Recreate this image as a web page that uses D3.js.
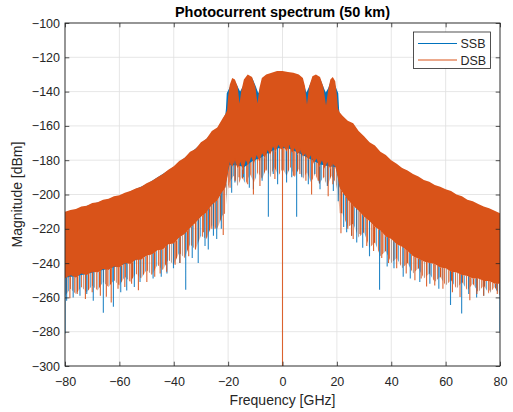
<!DOCTYPE html>
<html>
<head>
<meta charset="utf-8">
<script src="https://cdn.jsdelivr.net/npm/d3@7"></script>
<style>
  body { margin: 0; background: #fff; }
  svg { font-family: "Liberation Sans", Arial, sans-serif; }
</style>
</head>
<body>
<svg id="chart" width="513" height="412"></svg>
<script>
// valeurs : [fréquence GHz, niveau dBm]
const xTicks = [-80, -60, -40, -20, 0, 20, 40, 60, 80]
const yTicks = [-300, -280, -260, -240, -220, -200, -180, -160, -140, -120, -100]
const seriesNames = ["SSB", "DSB"]

// enveloppe haute DSB
const dsbUpper = [[-80,-210],[-78,-209],[-76,-208.5],[-74,-207],[-72,-206.5],[-70,-205],[-68,-204.5],[-66,-203],
  [-64,-202.5],[-62,-201],[-60,-200.5],[-58,-199],[-56,-198],[-54,-196.5],[-52,-195.5],[-50,-193.5],[-48,-192],
  [-46,-190],[-44,-188],[-42,-185.5],[-40,-183.5],[-38,-180.5],[-36,-178.5],[-34,-175],[-32,-173.5],[-30,-169.5],
  [-28,-167.5],[-26,-163],[-24,-161],[-22,-155.5],[-21,-153],[-20.4,-151],[-20,-143],[-19.4,-136],[-18.5,-132],
  [-17.5,-133],[-16.5,-137],[-15.8,-147],[-15.2,-140],[-14.2,-133],[-12.8,-130],[-11.2,-131.5],[-10,-137],[-9.2,-147],
  [-8.5,-138],[-7.6,-132],[-6,-130],[-4,-129],[-2,-128],[0,-128],[2,-128.5],[4,-129],[6,-130],[7.5,-132],[8.3,-137],
  [9,-147.5],[9.8,-137],[11,-131],[12.3,-130],[13.8,-131.5],[15,-137],[16,-148],[16.8,-139],[17.6,-133],[18.5,-131.5],
  [19.4,-134],[20,-142],[20.4,-150],[21,-152],[22,-154],[24,-157],[26,-158.5],[28,-163],[30,-166],[32,-169.5],
  [34,-171.5],[36,-175],[38,-177],[40,-180],[42,-182],[44,-184.5],[46,-186],[48,-188],[50,-189.5],[52,-191.5],
  [54,-192.5],[56,-194.5],[58,-195.5],[60,-197],[62,-198],[64,-200],[66,-201],[68,-203],[70,-204],[72,-205.5],
  [74,-207],[76,-208],[78,-209.5],[80,-211]]

// enveloppe basse (partie pleine) DSB
const dsbLower = [[-80,-249],[-78,-247],[-76,-248.5],[-74,-246],[-72,-247],[-70,-245],[-68,-245.5],[-66,-243.5],
  [-64,-244],[-62,-242],[-60,-242.5],[-58,-240],[-56,-240.5],[-54,-238],[-52,-238],[-50,-235.5],[-48,-235],
  [-46,-232.5],[-44,-232],[-42,-229],[-40,-228.5],[-38,-225],[-36,-223],[-34,-219.5],[-32,-216.5],[-30,-213],
  [-28,-210.5],[-26,-206],[-24,-203.5],[-22,-198],[-21,-196],[-20.3,-190],[-19.5,-181],[-18.5,-184],[-17.5,-180],
  [-16.5,-185],[-15.5,-181],[-14.5,-186],[-13.5,-180],[-12.5,-183],[-11.5,-178],[-10.5,-182],[-9.5,-177],[-8.5,-181],
  [-7.5,-176],[-6.5,-179],[-5.5,-174],[-4.5,-177],[-3.5,-172],[-2.5,-175],[-1.5,-171],[-0.5,-174],[0.5,-172],
  [1.5,-175],[2.5,-171],[3.5,-176],[4.5,-173],[5.5,-177],[6.5,-174],[7.5,-178],[8.5,-176],[9.5,-180],[10.5,-177],
  [11.5,-182],[12.5,-179],[13.5,-184],[14.5,-180],[15.5,-185],[16.5,-181],[17.5,-185],[18.5,-182],[19.5,-184],
  [20.3,-190],[21,-196],[22,-198.5],[24,-203],[26,-206.5],[28,-209.5],[30,-213],[32,-215.5],[34,-219],[36,-221],
  [38,-224.5],[40,-226],[42,-229],[44,-230.5],[46,-233],[48,-236],[50,-237.5],[52,-239],[54,-240],[56,-240.5],
  [58,-242.5],[60,-243],[62,-245],[64,-245.5],[66,-247],[68,-247.5],[70,-249],[72,-249],[74,-250.5],[76,-250.5],
  [78,-252],[80,-252]]

// enveloppe haute SSB (visible dans les creux)
const ssbUpper = [[-80,-211],[-70,-205.5],[-60,-201],[-50,-194],[-40,-184],[-30,-170.5],[-24,-161.5],[-22,-156.5],
  [-21,-153],[-20.8,-150],[-20.5,-141],[-19.6,-138],[-18.5,-133.5],[-17.5,-134],[-16.5,-137],[-15.6,-140],[-14.6,-137],
  [-13.5,-133],[-12.5,-131],[-11,-132.5],[-9.8,-137],[-8.9,-141],[-8,-137],[-7,-133],[-5,-130.5],[-2,-129.5],[0,-129],
  [2,-129.5],[5,-130.5],[7,-133],[8,-136.5],[8.8,-140.5],[9.8,-137],[11,-132.5],[12.5,-131],[14,-133],[15,-137],
  [15.9,-140.5],[16.8,-138],[17.8,-133.5],[19,-135],[20.5,-141],[20.8,-150],[21,-153],[22,-155.5],[24,-158],
  [30,-167],[40,-181],[50,-190.5],[60,-198],[70,-205],[80,-212]]

const ssbLower = [[-80,-248.5],[-76,-247.5],[-72,-246.3],[-68,-244.8],[-64,-243.3],[-60,-241.5],[-56,-239.5],[-52,-237],
  [-48,-234],[-44,-230.5],[-40,-227],[-36,-222],[-32,-216],[-28,-209.5],[-24,-202.5],[-22,-198],[-21,-195.5],
  [-20.5,-191],[-19.5,-183],[-17,-183],[-14,-184],[-11,-180.5],[-8,-178.5],[-5,-175.5],[-2,-173],[0,-173],[2,-173],
  [5,-175],[8,-177.5],[11,-180],[14,-182.5],[17,-183.5],[19.5,-184],[20.5,-191],[21,-195.5],[22,-198],[24,-202.5],
  [28,-209],[32,-215],[36,-220.5],[40,-225.5],[44,-230],[48,-235],[52,-238.5],[56,-240],[60,-242.5],[64,-244.8],
  [68,-246.8],[72,-248.5],[76,-250],[80,-251.5]]

// fin de la frange de pics sous la bande
const fringeLower = [[-80,-259],[-78,-255],[-76,-258],[-74,-254],[-72,-257],[-70,-253],[-68,-256],[-66,-251],
  [-64,-254],[-62,-250],[-60,-253],[-58,-248],[-56,-251],[-54,-246],[-52,-249],[-50,-244],[-48,-247],[-46,-241],
  [-44,-244],[-42,-238],[-40,-241],[-38,-234],[-36,-237],[-34,-229],[-32,-232],[-30,-224],[-28,-226],[-26,-218],
  [-24,-220],[-22,-212],[-21,-211],[-20.5,-200],[-19.5,-193],[-18,-189],[-16.5,-195],[-15,-190],[-13.5,-194],
  [-12,-188],[-10.5,-193],[-9,-187],[-7.5,-191],[-6,-185],[-4.5,-190],[-3,-184],[-1.5,-189],[0,-185],[1.5,-189],
  [3,-184],[4.5,-190],[6,-185],[7.5,-191],[9,-187],[10.5,-193],[12,-188],[13.5,-194],[15,-190],[16.5,-195],[18,-189],
  [19.5,-193],[20.5,-200],[21,-211],[22,-211],[24,-219],[26,-217],[28,-225],[30,-222],[32,-231],[34,-228],[36,-236],
  [38,-233],[40,-240],[42,-237],[44,-243],[46,-240],[48,-246],[50,-243],[52,-249],[54,-246],[56,-251],[58,-248],
  [60,-253],[62,-250],[64,-255],[66,-251],[68,-256],[70,-252],[72,-257],[74,-253],[76,-258],[78,-254],[80,-259]]

// pics vers le bas
const ssbSpikes = [[-80,-281],[-79.4,-262],[-77,-260],[-74.5,-259],[-72,-258],[-69.6,-262],[-65.9,-269],[-62.2,-265.5],
  [-59.5,-257],[-57.3,-256],[-54.5,-254],[-52.4,-251],[-47.6,-249],[-44.6,-248],[-42.5,-246],[-40.1,-243],[-37.8,-240],
  [-35.6,-255.5],[-33.2,-237],[-31,-240],[-28.5,-230],[-27.3,-232],[-25.4,-224],[-24.2,-226],[-22.5,-220],[-18.7,-199],
  [-17.5,-193],[-14.4,-190],[-12.2,-196],[-10.7,-197],[-7.5,-192],[-5.2,-213],[-3.4,-188],[-1.8,-194],[1.5,-193],
  [3.4,-190],[5.2,-213],[7.1,-190],[9.5,-194],[11.9,-188],[13.8,-197],[16.5,-195],[18.7,-198],[20.5,-204],[22.5,-219],
  [23.6,-222],[25.4,-224],[27.3,-228],[29.5,-231],[32,-236],[35.7,-255.5],[38.5,-242],[41,-243],[44.4,-248],[47,-249],
  [50.5,-251],[54.2,-252],[57.5,-255],[61.8,-264.5],[65.9,-269.4],[68.5,-258],[71.4,-260],[74,-259],[78.8,-256],[80,-280]]

const dsbSpikes = [[-78.2,-260.5],[-75.5,-258],[-72.5,-261],[-70,-257],[-67,-259],[-64.8,-259.6],[-63,-263],[-60.5,-255],
  [-58,-254],[-55.5,-252],[-53,-255.8],[-49.9,-251],[-47,-248],[-45,-246],[-42.6,-245],[-39.5,-241],[-37.7,-240],
  [-34.5,-236],[-32,-232],[-29.1,-222],[-27.9,-225],[-26,-220],[-24.8,-220],[-21.8,-223.6],[-19.3,-196],[-17.5,-192],
  [-16,-190],[-14.4,-188],[-12.8,-194],[-10.7,-200],[-8.3,-195],[-6,-186],[-2.8,-191],[0,-300],[2.2,-186],[4,-189],
  [6.4,-188],[8.6,-192],[10.7,-200],[13.2,-192],[15.2,-190],[16.8,-201],[18.5,-194],[21.5,-222.6],[24,-220],
  [25.4,-224],[26,-226],[28.5,-223],[31,-230],[33.5,-233],[36.5,-237],[39,-240],[42,-243],[45.5,-246],[48.7,-250],
  [51,-249],[53,-253.6],[56,-253],[59,-255],[62.5,-257],[65.3,-259.7],[68.9,-261.6],[71.5,-258],[74,-259],[76.3,-256],[79,-258]]

const colors = { SSB: "#0072BD", DSB: "#D95319" }
const axisColor = "#262626"

// dessin
const pLeft = 65, pRight = 500, pTop = 23, pBottom = 366
const svg = d3.select("#chart")

const x = d3.scaleLinear().domain([-80, 80]).range([pLeft, pRight])
const y = d3.scaleLinear().domain([-300, -100]).range([pBottom, pTop])

const defs = svg.append("defs")
defs.append("clipPath").attr("id", "plotClip")
  .append("rect").attr("x", pLeft).attr("y", pTop).attr("width", pRight - pLeft).attr("height", pBottom - pTop)
// motif de pics fins (frange bruitée)
const pat = defs.append("pattern").attr("id", "comb")
  .attr("patternUnits", "userSpaceOnUse").attr("width", 11).attr("height", 10)
pat.append("rect").attr("x", 0).attr("width", 1.4).attr("height", 10).attr("fill", colors.DSB)
pat.append("rect").attr("x", 2.2).attr("width", 0.9).attr("height", 10).attr("fill", colors.SSB).attr("opacity", 0.75)
pat.append("rect").attr("x", 4).attr("width", 1.1).attr("height", 10).attr("fill", colors.DSB).attr("opacity", 0.8)
pat.append("rect").attr("x", 6.2).attr("width", 0.9).attr("height", 10).attr("fill", "#7d5548").attr("opacity", 0.7)
pat.append("rect").attr("x", 8.2).attr("width", 1.3).attr("height", 10).attr("fill", colors.DSB).attr("opacity", 0.9)
pat.append("rect").attr("x", 10.1).attr("width", 0.7).attr("height", 10).attr("fill", colors.SSB).attr("opacity", 0.5)

// grille
const grid = svg.append("g").attr("stroke", "#dfdfdf").attr("stroke-width", 0.8)
grid.selectAll(".gx").data(xTicks).join("line")
  .attr("x1", d => x(d)).attr("x2", d => x(d)).attr("y1", pTop).attr("y2", pBottom)
grid.selectAll(".gy").data(yTicks).join("line")
  .attr("y1", d => y(d)).attr("y2", d => y(d)).attr("x1", pLeft).attr("x2", pRight)

const line = d3.line().x(d => x(d[0])).y(d => y(d[1]))
function band(upper, lower) {
  return line(upper.concat(lower.slice().reverse())) + "Z"
}
function spikePath(spikes, lower) {
  const edge = d3.scaleLinear().domain(lower.map(d => d[0])).range(lower.map(d => d[1])).clamp(true)
  return spikes.map(d => "M" + x(d[0]) + "," + y(edge(d[0]) + 1) + "V" + y(d[1])).join("")
}

const plot = svg.append("g").attr("clip-path", "url(#plotClip)")

// frange
plot.append("path").attr("d", band(dsbLower, fringeLower)).attr("fill", "url(#comb)")

// SSB d'abord, DSB par-dessus (comme matlab)
plot.append("path").attr("d", band(ssbUpper, ssbLower)).attr("fill", colors.SSB)
plot.append("path").attr("d", spikePath(ssbSpikes, ssbLower))
  .attr("stroke", colors.SSB).attr("stroke-width", 1.1).attr("fill", "none").attr("opacity", 0.85)
plot.append("path").attr("d", band(dsbUpper, dsbLower)).attr("fill", colors.DSB)
plot.append("path").attr("d", spikePath(dsbSpikes, dsbLower))
  .attr("stroke", colors.DSB).attr("stroke-width", 1.1).attr("fill", "none").attr("opacity", 0.9)

// axes
const fmt = d3.format("d")
const tick = 4.3
svg.append("g").attr("transform", "translate(0," + pBottom + ")")
  .call(d3.axisBottom(x).tickValues(xTicks).tickSize(-tick).tickPadding(11).tickFormat(fmt))
svg.append("g").attr("transform", "translate(0," + pTop + ")")
  .call(d3.axisTop(x).tickValues(xTicks).tickSize(-tick).tickFormat(""))
svg.append("g").attr("transform", "translate(" + pLeft + ",0)")
  .call(d3.axisLeft(y).tickValues(yTicks).tickSize(-tick).tickPadding(5).tickFormat(fmt))
svg.append("g").attr("transform", "translate(" + pRight + ",0)")
  .call(d3.axisRight(y).tickValues(yTicks).tickSize(-tick).tickFormat(""))
svg.selectAll(".domain").remove()
svg.selectAll(".tick line").attr("stroke", axisColor).attr("stroke-width", 0.8)
svg.selectAll(".tick text").attr("fill", axisColor).style("font-size", "12.5px")

svg.append("rect").attr("x", pLeft).attr("y", pTop).attr("width", pRight - pLeft).attr("height", pBottom - pTop)
  .attr("fill", "none").attr("stroke", axisColor).attr("stroke-width", 0.9)

// textes
svg.append("text").attr("x", (pLeft + pRight) / 2).attr("y", 16.5).attr("text-anchor", "middle")
  .style("font-size", "14.5px").style("font-weight", "bold").attr("fill", "#000")
  .text("Photocurrent spectrum (50 km)")
svg.append("text").attr("x", (pLeft + pRight) / 2).attr("y", 405).attr("text-anchor", "middle")
  .style("font-size", "14px").attr("fill", axisColor).text("Frequency [GHz]")
svg.append("text").attr("transform", "translate(22," + (pTop + pBottom) / 2 + ") rotate(-90)")
  .attr("text-anchor", "middle").style("font-size", "14px").attr("fill", axisColor).text("Magnitude [dBm]")

// légende
const lg = svg.append("g").attr("transform", "translate(413.5,32)")
lg.append("rect").attr("width", 77).attr("height", 36.5).attr("fill", "#fff")
  .attr("stroke", axisColor).attr("stroke-width", 0.8)
seriesNames.forEach((name, i) => {
  const yy = 11.5 + i * 16.5
  lg.append("line").attr("x1", 4.5).attr("x2", 43.5).attr("y1", yy).attr("y2", yy)
    .attr("stroke", colors[name]).attr("stroke-width", 1)
  lg.append("text").attr("x", 47).attr("y", yy + 4.5).style("font-size", "12.5px")
    .attr("fill", axisColor).text(name)
})
</script>
</body>
</html>
